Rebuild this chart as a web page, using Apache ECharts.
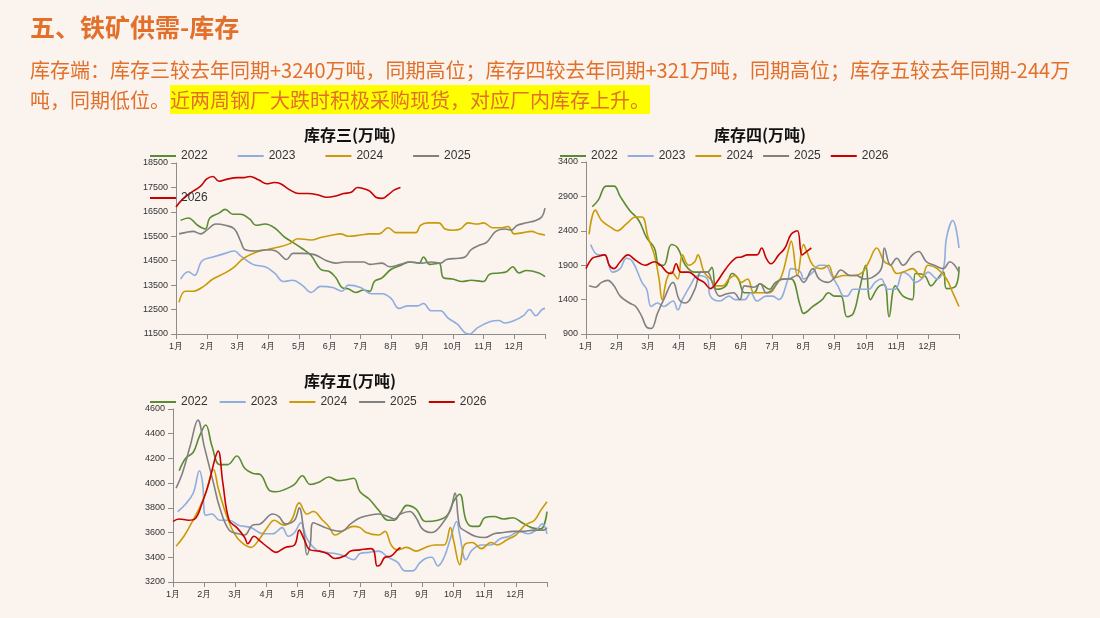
<!DOCTYPE html>
<html>
<head>
<meta charset="UTF-8">
<script src="https://cdn.jsdelivr.net/npm/echarts@6/dist/echarts.min.js"></script>
<style>
body{margin:0;background:#faf3ee;font-family:"Noto Sans CJK SC","Noto Sans",sans-serif;}
#wrap{position:relative;width:1100px;height:618px;}
#chart{position:absolute;left:0;top:0;width:1100px;height:618px;}
#head{position:absolute;left:30px;top:8px;font-size:25px;font-weight:bold;color:#e2702a;}
#text{position:absolute;left:30px;top:55px;width:1065px;font-size:20px;line-height:30px;color:#e2702a;}
#text span{background:#ffff00;}
</style>
</head>
<body>
<div id="wrap">
<div id="chart"></div>
<div id="head">五、铁矿供需-库存</div>
<div id="text">库存端：库存三较去年同期+3240万吨，同期高位；库存四较去年同期+321万吨，同期高位；库存五较去年同期-244万吨，同期低位。<span>近两周钢厂大跌时积极采购现货，对应厂内库存上升。</span></div>
</div>
<script type="text/javascript">
var years = ['2022', '2023', '2024', '2025', '2026'];
var colors = ['#5b8c33', '#8fadde', '#c99b06', '#808080', '#c80000'];
var months = ['1月','2月','3月','4月','5月','6月','7月','8月','9月','10月','11月','12月'];

// 库存三  [month position, value]
var k3_2022 = [[1.15,16150],[1.4,16250],[1.7,15950],[1.95,15800],[2.1,16250],[2.4,16450],[2.6,16600],[2.85,16400],[3.1,16400],[3.4,16200],[3.6,15950],[3.9,16000],[4.2,15850],[4.5,15500],[4.8,15250],[5.1,15000],[5.4,14700],[5.7,14150],[6.0,14050],[6.2,13800],[6.4,13400],[6.6,13350],[6.85,13200],[7.1,13300],[7.3,13250],[7.45,13650],[7.7,13800],[8.0,14150],[8.3,14300],[8.6,14450],[8.9,14400],[9.05,14650],[9.25,14350],[9.55,14400],[9.7,13800],[10.0,13750],[10.3,13650],[10.6,13700],[11.0,13650],[11.2,13950],[11.5,14000],[11.75,14050],[11.95,14250],[12.15,14000],[12.4,14100],[12.8,14000],[13.0,13850]];
var k3_2023 = [[1.15,13750],[1.4,14050],[1.6,13900],[1.85,14500],[2.2,14650],[2.6,14800],[2.9,14900],[3.1,14700],[3.5,14350],[3.9,14250],[4.2,14000],[4.5,13650],[4.8,13700],[5.1,13500],[5.4,13200],[5.7,13450],[6.1,13400],[6.4,13250],[6.6,13500],[7.0,13400],[7.35,13150],[7.7,13150],[8.0,12950],[8.25,12550],[8.55,12650],[8.85,12650],[9.05,12750],[9.3,12450],[9.6,12450],[9.85,12150],[10.15,11900],[10.4,11550],[10.55,11500],[10.8,11750],[11.2,12000],[11.5,12050],[11.7,11950],[12.0,12050],[12.3,12250],[12.5,12500],[12.7,12250],[12.9,12500],[13.0,12550]];
var k3_2024 = [[1.1,12800],[1.3,13250],[1.55,13250],[1.9,13450],[2.2,13750],[2.6,14000],[2.9,14250],[3.2,14600],[3.6,14850],[3.95,14950],[4.3,15050],[4.7,15200],[4.95,15400],[5.4,15350],[5.7,15450],[6.1,15550],[6.35,15600],[6.6,15500],[7.0,15550],[7.3,15600],[7.6,15600],[7.9,15850],[8.15,15650],[8.5,15650],[8.8,15650],[8.95,15950],[9.2,16050],[9.55,16050],[9.75,15800],[10.0,15750],[10.25,15800],[10.5,16050],[10.8,16000],[11.0,16050],[11.3,15850],[11.6,15850],[11.8,15900],[12.0,15600],[12.3,15650],[12.55,15700],[12.8,15600],[13.0,15550]];
var k3_2025 = [[1.1,15600],[1.3,15650],[1.55,15700],[1.8,15600],[2.0,15750],[2.3,16000],[2.6,15950],[2.9,15800],[3.1,15300],[3.25,14950],[3.6,14900],[3.95,14950],[4.25,14900],[4.6,14550],[4.8,14800],[5.1,14800],[5.5,14750],[5.9,14500],[6.2,14400],[6.5,14450],[6.8,14450],[7.1,14450],[7.3,14350],[7.7,14400],[7.95,14250],[8.3,14350],[8.6,14450],[9.0,14400],[9.3,14450],[9.6,14400],[9.8,14550],[10.2,14600],[10.4,14650],[10.6,14950],[10.9,15150],[11.1,15250],[11.4,15700],[11.7,15800],[11.9,15750],[12.1,15950],[12.4,16050],[12.7,16150],[12.9,16300],[13.0,16650]];
var k3_2026 = [[1.0,16700],[1.2,17000],[1.5,17300],[1.8,17550],[2.0,17850],[2.2,17950],[2.4,17750],[2.7,17850],[3.0,17900],[3.2,17900],[3.4,17950],[3.7,17800],[3.95,17650],[4.2,17700],[4.4,17650],[4.7,17400],[5.0,17250],[5.3,17250],[5.6,17200],[5.9,17100],[6.2,17150],[6.45,17250],[6.7,17300],[6.9,17500],[7.1,17450],[7.3,17350],[7.5,17100],[7.7,17050],[7.9,17200],[8.1,17400],[8.3,17500]];

// 库存四
var k4_2022 = [[1.2,2750],[1.4,2850],[1.65,3050],[1.9,3050],[2.1,2900],[2.4,2700],[2.7,2550],[2.95,2300],[3.2,2150],[3.35,1900],[3.5,1900],[3.75,2200],[3.95,2150],[4.2,1900],[4.5,1800],[4.9,1800],[5.05,1870],[5.2,1550],[5.5,1600],[5.7,1780],[5.9,1700],[6.1,1500],[6.4,1500],[6.6,1630],[6.9,1550],[7.1,1650],[7.4,1700],[7.6,1700],[7.9,1300],[8.0,1200],[8.3,1300],[8.6,1400],[8.8,1500],[9.0,1450],[9.2,1450],[9.4,1150],[9.6,1200],[9.8,1550],[10.0,1900],[10.15,1400],[10.4,1580],[10.6,1620],[10.75,1150],[10.95,1600],[11.2,1450],[11.5,1400],[11.6,1780],[11.9,1750],[12.1,1600],[12.3,1700],[12.5,1800],[12.6,1560],[12.9,1600],[13.0,1880]];
var k4_2023 = [[1.15,2200],[1.4,2050],[1.6,2050],[1.85,1800],[2.1,1850],[2.3,2000],[2.5,1950],[2.8,1650],[2.95,1550],[3.1,1300],[3.3,1350],[3.5,1300],[3.8,1380],[3.95,1250],[4.1,1400],[4.35,1600],[4.6,1750],[4.9,1700],[5.0,1450],[5.3,1380],[5.6,1450],[5.8,1400],[6.1,1400],[6.3,1500],[6.5,1380],[6.8,1450],[7.0,1450],[7.2,1400],[7.5,1700],[7.6,1850],[7.9,1800],[8.0,1700],[8.3,1800],[8.5,1900],[8.7,1900],[8.9,1750],[9.1,1600],[9.3,1450],[9.4,1450],[9.6,1550],[9.9,1550],[10.1,1550],[10.3,1650],[10.5,1700],[10.7,1550],[10.95,1550],[11.2,1800],[11.4,1750],[11.6,1650],[11.8,1700],[12.0,1800],[12.3,1700],[12.5,1850],[12.6,2300],[12.8,2550],[13.0,2150]];
var k4_2024 = [[1.1,2350],[1.3,2700],[1.5,2550],[1.8,2450],[2.0,2400],[2.3,2500],[2.6,2600],[2.8,2600],[3.0,2300],[3.2,2050],[3.35,1700],[3.45,1400],[3.6,1700],[3.75,1800],[3.95,1700],[4.1,2050],[4.3,1900],[4.5,1950],[4.6,2050],[4.8,1800],[5.0,1700],[5.2,1600],[5.4,1600],[5.6,1700],[5.8,1750],[6.0,1650],[6.2,1700],[6.4,1500],[6.6,1500],[6.9,1500],[7.1,1600],[7.3,1750],[7.5,2100],[7.6,2250],[7.8,1750],[8.0,2200],[8.1,2100],[8.3,1900],[8.6,1850],[8.8,1900],[9.0,1720],[9.3,1750],[9.6,1750],[9.9,1800],[10.1,1950],[10.35,2150],[10.6,1950],[10.8,1900],[11.0,1780],[11.2,1800],[11.5,1850],[11.8,1720],[12.0,1900],[12.3,1850],[12.6,1700],[12.8,1500],[13.0,1300]];
var k4_2025 = [[1.1,1600],[1.3,1580],[1.5,1650],[1.7,1680],[1.9,1600],[2.1,1450],[2.4,1350],[2.6,1300],[2.8,1150],[2.95,1000],[3.1,980],[3.3,1200],[3.5,1400],[3.8,1650],[4.0,1400],[4.2,1350],[4.5,1550],[4.7,1800],[4.9,1800],[5.1,1600],[5.3,1450],[5.5,1480],[5.75,1500],[5.95,1400],[6.1,1600],[6.4,1580],[6.6,1630],[6.8,1500],[7.0,1550],[7.3,1700],[7.5,1700],[7.8,1750],[8.0,1650],[8.3,1850],[8.5,1700],[8.8,1650],[9.0,1720],[9.2,1830],[9.5,1750],[9.7,1750],[9.95,1700],[10.2,1720],[10.5,1850],[10.6,2150],[10.8,1900],[11.0,2000],[11.2,1900],[11.5,2050],[11.7,2100],[11.95,1950],[12.2,1900],[12.5,1850],[12.7,1950],[13.0,1800]];
var k4_2026 = [[1.0,1850],[1.2,2000],[1.4,2030],[1.6,2050],[1.75,1900],[1.9,1850],[2.1,1950],[2.35,2050],[2.6,1970],[2.9,1900],[3.2,1950],[3.4,1900],[3.6,1800],[3.75,1780],[3.9,1920],[4.05,1800],[4.3,1800],[4.6,1700],[4.8,1650],[5.0,1560],[5.2,1650],[5.5,1850],[5.8,2000],[6.0,2020],[6.2,2050],[6.5,2050],[6.65,2150],[6.8,2000],[6.95,1920],[7.2,2050],[7.4,2150],[7.6,2350],[7.8,2400],[7.95,2050],[8.1,2100],[8.25,2150]];

// 库存五
var k5_2022 = [[1.2,4100],[1.4,4200],[1.65,4250],[1.85,4380],[2.05,4470],[2.25,4300],[2.5,4150],[2.75,4150],[3.05,4220],[3.3,4120],[3.55,4080],[3.8,4070],[4.1,3940],[4.3,3930],[4.6,3950],[4.9,3990],[5.15,4060],[5.4,3990],[5.7,4010],[6.0,4050],[6.3,4020],[6.6,4030],[6.8,4040],[7.0,3930],[7.3,3870],[7.6,3780],[7.9,3700],[8.1,3700],[8.3,3760],[8.5,3820],[8.8,3790],[9.1,3690],[9.5,3700],[9.8,3740],[10.0,3850],[10.2,3910],[10.4,3700],[10.6,3650],[10.8,3650],[11.0,3720],[11.3,3730],[11.6,3710],[11.9,3720],[12.2,3680],[12.5,3640],[12.8,3630],[13.0,3770]];
var k5_2023 = [[1.15,3770],[1.4,3830],[1.65,3920],[1.85,4100],[1.95,4000],[2.05,3740],[2.25,3750],[2.5,3700],[2.8,3700],[3.1,3660],[3.5,3640],[3.9,3590],[4.2,3590],[4.5,3640],[4.7,3570],[4.9,3600],[5.1,3680],[5.3,3550],[5.6,3460],[5.9,3440],[6.2,3430],[6.5,3410],[6.8,3380],[7.0,3430],[7.3,3440],[7.6,3450],[7.9,3400],[8.2,3360],[8.45,3290],[8.7,3290],[8.9,3350],[9.1,3390],[9.3,3400],[9.5,3330],[9.7,3400],[9.9,3550],[10.1,3690],[10.2,3580],[10.4,3380],[10.6,3460],[10.9,3500],[11.2,3500],[11.5,3550],[11.8,3570],[12.1,3610],[12.4,3590],[12.65,3620],[12.85,3670],[13.0,3590]];
var k5_2024 = [[1.1,3490],[1.35,3570],[1.6,3680],[1.85,3800],[2.05,3920],[2.3,4110],[2.45,3960],[2.7,3750],[2.95,3600],[3.2,3520],[3.5,3480],[3.75,3540],[4.05,3650],[4.25,3700],[4.55,3660],[4.8,3700],[5.05,3840],[5.3,3750],[5.5,3770],[5.8,3700],[6.0,3650],[6.2,3580],[6.5,3620],[6.8,3650],[7.0,3640],[7.2,3600],[7.6,3580],[7.8,3610],[8.0,3500],[8.2,3460],[8.5,3480],[8.8,3450],[9.1,3480],[9.4,3500],[9.7,3500],[9.9,3640],[10.0,3540],[10.2,3340],[10.35,3500],[10.6,3520],[10.9,3470],[11.2,3520],[11.4,3500],[11.7,3540],[12.0,3580],[12.3,3660],[12.6,3700],[12.8,3780],[13.0,3850]];
var k5_2025 = [[1.1,3960],[1.3,4080],[1.55,4300],[1.8,4510],[2.0,4300],[2.3,4000],[2.5,3800],[2.8,3620],[3.1,3590],[3.3,3580],[3.55,3660],[3.8,3670],[4.2,3750],[4.4,3730],[4.6,3670],[4.9,3700],[5.05,3800],[5.2,3600],[5.3,3420],[5.4,3500],[5.5,3680],[5.8,3650],[6.1,3620],[6.4,3610],[6.7,3670],[7.0,3720],[7.3,3740],[7.6,3750],[7.9,3730],[8.1,3710],[8.3,3750],[8.6,3770],[8.8,3720],[9.0,3630],[9.3,3600],[9.6,3660],[9.9,3780],[10.05,3920],[10.2,3650],[10.4,3610],[10.7,3570],[11.0,3560],[11.3,3590],[11.6,3600],[11.9,3610],[12.2,3610],[12.6,3620],[12.9,3620],[13.0,3640]];
var k5_2026 = [[1.0,3690],[1.2,3710],[1.5,3700],[1.7,3710],[1.95,3850],[2.15,4000],[2.35,4200],[2.45,4260],[2.6,4000],[2.8,3700],[3.05,3640],[3.3,3560],[3.4,3510],[3.6,3570],[3.8,3530],[4.1,3470],[4.3,3440],[4.6,3480],[4.9,3500],[5.05,3620],[5.2,3550],[5.4,3460],[5.7,3450],[5.95,3430],[6.2,3390],[6.5,3410],[6.7,3450],[7.0,3460],[7.35,3470],[7.45,3450],[7.55,3330],[7.65,3340],[7.8,3400],[8.0,3410],[8.2,3460],[8.3,3480]];

var panels = [
  {name: '库存三(万吨)', data: [k3_2022, k3_2023, k3_2024, k3_2025, k3_2026], min: 11500, max: 18500, step: 1000,
   grid: {left: 176, top: 163, width: 369, height: 171}, cx: 345, ty: 122, ly: 145, gap: 30},
  {name: '库存四(万吨)', data: [k4_2022, k4_2023, k4_2024, k4_2025, k4_2026], min: 900, max: 3400, step: 500,
   grid: {left: 586, top: 162, width: 373, height: 172}, cx: 755, ty: 122, ly: 145, gap: 10},
  {name: '库存五(万吨)', data: [k5_2022, k5_2023, k5_2024, k5_2025, k5_2026], min: 3200, max: 4600, step: 200,
   grid: {left: 173, top: 409, width: 374, height: 173}, cx: 345, ty: 368, ly: 391, gap: 12}
];

var axisStyle = {lineStyle: {color: '#8c8c8c'}};
var option = {title: [], legend: [], grid: [], xAxis: [], yAxis: [], series: [], animation: false};
panels.forEach(function (p, i) {
  option.title.push({text: p.name, left: p.cx, top: p.ty, textAlign: 'center',
    textStyle: {fontSize: 16, fontWeight: 'bold', color: '#111', fontFamily: 'Noto Sans CJK SC'}});
  option.legend.push({data: years, left: 'center', top: p.ly, itemWidth: 26, itemHeight: 2, itemGap: p.gap,
    icon: 'rect', textStyle: {fontSize: 12, color: '#333'},
    left: p.cx - 200, width: 400});
  option.grid.push(p.grid);
  option.xAxis.push({type: 'value', gridIndex: i, min: 1, max: 13, interval: 1,
    axisLine: axisStyle, axisTick: {show: true, lineStyle: {color: '#8c8c8c'}}, splitLine: {show: false},
    axisLabel: {fontSize: 9, color: '#333', formatter: function (v) { return v < 13 ? months[v - 1] : ''; }}});
  option.yAxis.push({type: 'value', gridIndex: i, min: p.min, max: p.max, interval: p.step,
    axisLine: {show: true, lineStyle: {color: '#8c8c8c'}}, axisTick: {show: true, lineStyle: {color: '#8c8c8c'}},
    splitLine: {show: false}, axisLabel: {fontSize: 9, color: '#333', formatter: function (v) { return String(v); }}});
  p.data.forEach(function (d, j) {
    option.series.push({name: years[j], type: 'line', xAxisIndex: i, yAxisIndex: i, data: d,
      smooth: 0.4, showSymbol: false, lineStyle: {width: 1.6, color: colors[j]}, itemStyle: {color: colors[j]}});
  });
});
var chart = echarts.init(document.getElementById('chart'));
chart.setOption(option);
</script>
</body>
</html>
